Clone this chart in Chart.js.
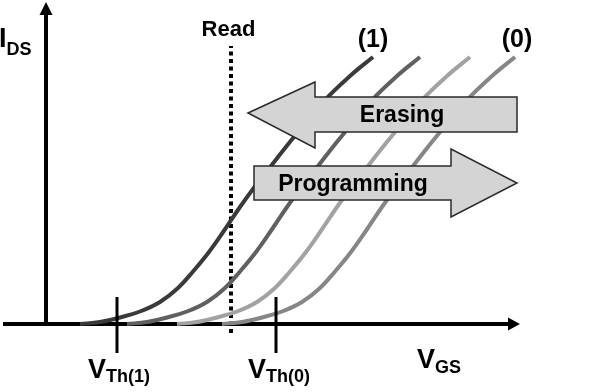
<!DOCTYPE html>
<html>
<head>
<meta charset="utf-8">
<script src="https://cdn.jsdelivr.net/npm/chart.js@4.4.1/dist/chart.umd.min.js"></script>
<style>
  html, body { margin: 0; padding: 0; background: #fff; }
  #wrap { width: 600px; height: 392px; }
</style>
</head>
<body>
<div id="wrap"><canvas id="ivChart" width="600" height="392"></canvas></div>
<script>
// --- Data (VGS in arbitrary units, IDS in arbitrary units) ---
const idsLevels = [0, 0.04, 0.12, 0.25, 0.44, 0.72, 1.05, 1.44, 1.88, 2.34, 2.74, 3.12, 3.68, 4.48, 4.96, 5.34];
const vgsState1 = [0.68, 1.08, 1.44, 1.88, 2.28, 2.64, 2.94, 3.26, 3.57, 3.88, 4.17, 4.47, 4.91, 5.58, 6.08, 6.54];
const vgsStateA = [1.62, 2.02, 2.38, 2.82, 3.22, 3.58, 3.88, 4.20, 4.51, 4.82, 5.11, 5.41, 5.85, 6.52, 7.02, 7.48];
const vgsStateB = [2.62, 3.02, 3.38, 3.82, 4.22, 4.58, 4.88, 5.20, 5.51, 5.82, 6.11, 6.41, 6.85, 7.52, 8.02, 8.48];
const vgsState0 = [3.52, 3.92, 4.28, 4.72, 5.12, 5.48, 5.78, 6.10, 6.41, 6.72, 7.01, 7.31, 7.75, 8.42, 8.92, 9.38];
const curveColors = ['#3a3a3a', '#606060', '#a2a2a2', '#868686'];

const readVoltage = 3.70;
const readSpan = [-0.18, 5.56];
const thresholdVoltages = [1.42, 4.60];
const thresholdLabels = ['Th(1)', 'Th(0)'];

function toPoints(xs, ys) {
    return xs.map((x, i) => ({ x: x, y: ys[i] }));
}

const curveSets = [vgsState1, vgsStateA, vgsStateB, vgsState0];

const datasets = curveSets.map((xs, i) => ({
    data: toPoints(xs, idsLevels),
    borderColor: curveColors[i],
    borderWidth: 4,
    pointRadius: 0,
    showLine: true,
    tension: 0.4,
    borderCapStyle: 'butt',
    fill: false
}));

datasets.push({
    data: [{ x: readVoltage, y: readSpan[0] }, { x: readVoltage, y: readSpan[1] }],
    borderColor: '#000',
    borderWidth: 4,
    borderDash: [4, 3.5],
    pointRadius: 0,
    showLine: true,
    fill: false
});

// --- Drawing helpers ---
const FONT = '"Liberation Sans", Arial, sans-serif';

function labelWithSub(ctx, main, sub, x, y, mainSize, subSize, dy) {
    ctx.textAlign = 'left';
    ctx.textBaseline = 'alphabetic';
    ctx.font = 'bold ' + mainSize + 'px ' + FONT;
    ctx.fillText(main, x, y);
    const w = ctx.measureText(main).width;
    ctx.font = 'bold ' + subSize + 'px ' + FONT;
    ctx.fillText(sub, x + w, y + dy);
}

function blockArrow(ctx, pts) {
    ctx.beginPath();
    pts.forEach((p, i) => i === 0 ? ctx.moveTo(p[0], p[1]) : ctx.lineTo(p[0], p[1]));
    ctx.closePath();
    ctx.fillStyle = '#d4d4d4';
    ctx.fill();
    ctx.lineWidth = 1.5;
    ctx.strokeStyle = '#2a2a2a';
    ctx.stroke();
}

const sketchPlugin = {
    id: 'sketch',
    beforeDatasetsDraw(chart) {
        const ctx = chart.ctx;
        const X = v => chart.scales.x.getPixelForValue(v);
        const Y = v => chart.scales.y.getPixelForValue(v);
        ctx.save();
        ctx.strokeStyle = '#000';
        ctx.fillStyle = '#000';
        ctx.lineWidth = 4;
        // y axis
        ctx.beginPath();
        ctx.moveTo(X(0), Y(-0.03));
        ctx.lineTo(X(0), Y(6.2));
        ctx.stroke();
        ctx.beginPath();
        ctx.moveTo(X(0), Y(6.44));
        ctx.lineTo(X(0) - 6.5, Y(6.18));
        ctx.lineTo(X(0) + 6.5, Y(6.18));
        ctx.closePath();
        ctx.fill();
        // x axis
        ctx.beginPath();
        ctx.moveTo(X(-0.86), Y(0));
        ctx.lineTo(X(9.26), Y(0));
        ctx.stroke();
        ctx.beginPath();
        ctx.moveTo(X(9.48), Y(0));
        ctx.lineTo(X(9.24), Y(0) - 6.5);
        ctx.lineTo(X(9.24), Y(0) + 6.5);
        ctx.closePath();
        ctx.fill();
        ctx.restore();
    },
    afterDatasetsDraw(chart) {
        const ctx = chart.ctx;
        const X = v => chart.scales.x.getPixelForValue(v);
        const Y = v => chart.scales.y.getPixelForValue(v);
        ctx.save();

        // threshold ticks
        ctx.strokeStyle = '#000';
        ctx.lineWidth = 3;
        thresholdVoltages.forEach(v => {
            ctx.beginPath();
            ctx.moveTo(X(v), Y(0.54));
            ctx.lineTo(X(v), Y(-0.58));
            ctx.stroke();
        });

        // Erasing arrow (points left)
        blockArrow(ctx, [
            [X(4.04), Y(4.22)], [X(5.38), Y(4.84)], [X(5.38), Y(4.54)],
            [X(9.42), Y(4.54)], [X(9.42), Y(3.84)], [X(5.38), Y(3.84)],
            [X(5.38), Y(3.52)]
        ]);
        // Programming arrow (points right)
        blockArrow(ctx, [
            [X(4.16), Y(3.16)], [X(8.10), Y(3.16)], [X(8.10), Y(3.50)],
            [X(9.42), Y(2.82)], [X(8.10), Y(2.14)], [X(8.10), Y(2.48)],
            [X(4.16), Y(2.48)]
        ]);

        ctx.fillStyle = '#000';
        ctx.textBaseline = 'alphabetic';
        ctx.textAlign = 'center';
        ctx.font = 'bold 23px ' + FONT;
        ctx.fillText('Erasing', X(7.12), Y(4.04));
        ctx.fillText('Programming', X(6.14), Y(2.66));

        ctx.font = 'bold 22px ' + FONT;
        ctx.fillText('Read', X(3.65), Y(5.76));

        ctx.font = 'bold 25px ' + FONT;
        ctx.fillText('(1)', X(6.54), Y(5.54));
        ctx.fillText('(0)', X(9.42), Y(5.54));

        labelWithSub(ctx, 'I', 'DS', X(-0.94), Y(5.54), 27, 18, 8);
        labelWithSub(ctx, 'V', thresholdLabels[0], X(0.84), Y(-1.08), 27, 18, 4);
        labelWithSub(ctx, 'V', thresholdLabels[1], X(4.04), Y(-1.08), 27, 18, 4);
        labelWithSub(ctx, 'V', 'GS', X(7.42), Y(-0.88), 27, 18, 5);

        ctx.restore();
    }
};

new Chart(document.getElementById('ivChart').getContext('2d'), {
    type: 'scatter',
    data: { datasets: datasets },
    options: {
        responsive: false,
        animation: false,
        devicePixelRatio: 1,
        layout: { padding: 0 },
        plugins: {
            legend: { display: false },
            tooltip: { enabled: false }
        },
        scales: {
            x: { type: 'linear', min: -0.92, max: 11.08, display: false },
            y: { type: 'linear', min: -1.36, max: 6.48, display: false }
        }
    },
    plugins: [sketchPlugin]
});
</script>
</body>
</html>
